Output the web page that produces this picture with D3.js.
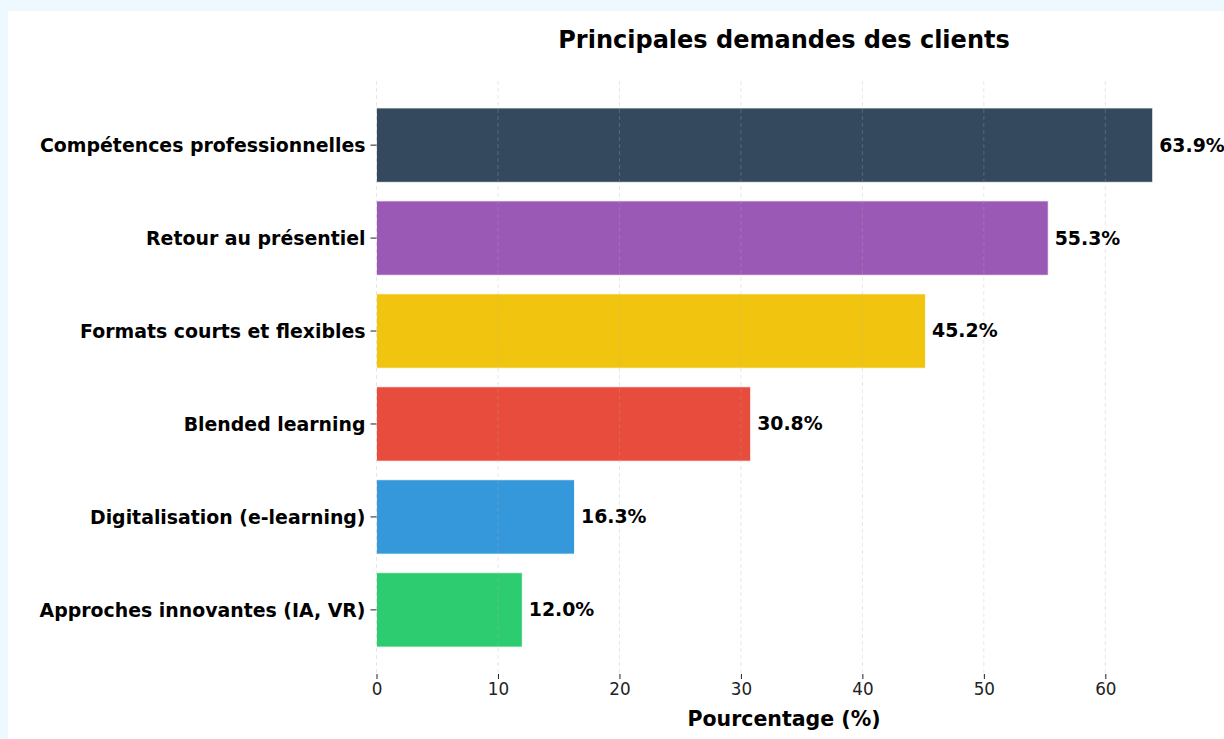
<!DOCTYPE html>
<html><head><meta charset="utf-8">
<script src="https://cdn.jsdelivr.net/npm/d3@7"></script>
<style>
html,body{margin:0;padding:0;background:#eef8ff;overflow:hidden;}
#wrap{position:absolute;left:8px;top:11px;width:1240px;height:740px;background:#fff;}
svg{display:block;font-family:"DejaVu Sans",sans-serif;}
</style></head>
<body><div id="wrap"><svg id="chart" width="1240" height="728"></svg></div>
<script>
const categories = ["Compétences professionnelles","Retour au présentiel","Formats courts et flexibles","Blended learning","Digitalisation (e-learning)","Approches innovantes (IA, VR)"];
const values = [63.9, 55.3, 45.2, 30.8, 16.3, 12.0];
const colors = ["#34495e","#9b59b6","#f1c40f","#e74c3c","#3498db","#2ecc71"];
const xTicks = [0,10,20,30,40,50,60];
const title = "Principales demandes des clients";
const xLabel = "Pourcentage (%)";

const ox = 8, oy = 11;
const pLeft = 376.5 - ox, pRight = 1191.5 - ox, pTop = 81 - oy, pBottom = 674 - oy;
const svg = d3.select("#chart");

const x = d3.scaleLinear().domain([0, d3.max(values) * 1.05]).range([pLeft, pRight]);
const n = categories.length;
const y = d3.scaleLinear().domain([-0.69, n - 1 + 0.69]).range([pTop, pBottom]);
const barH = (y(0.4) - y(-0.4));

const g = svg.append("g");
g.selectAll("rect.bar").data(values).enter().append("rect")
  .attr("x", x(0))
  .attr("y", (d,i) => y(i - 0.4))
  .attr("width", d => x(d) - x(0))
  .attr("height", barH)
  .attr("fill", (d,i) => colors[i])
  .attr("stroke", "#ffffff").attr("stroke-opacity", 0.8).attr("stroke-width", 1);

g.selectAll("line.grid").data(xTicks).enter().append("line")
  .attr("x1", d => x(d)).attr("x2", d => x(d))
  .attr("y1", pTop).attr("y2", pBottom)
  .attr("stroke", "#b0b0b0").attr("stroke-opacity", 0.3)
  .attr("stroke-width", 1).attr("stroke-dasharray", "4,3");

const xAxis = d3.axisBottom(x).tickValues(xTicks).tickSize(5).tickPadding(4).tickFormat(d3.format("d"));
const xa = svg.append("g").attr("transform", `translate(0,${pBottom})`).call(xAxis);
xa.select(".domain").remove();
xa.selectAll(".tick line").attr("stroke", "#222").attr("stroke-width", 1);
xa.selectAll(".tick text").attr("font-size", 16.8).attr("fill", "#222").attr("font-family", "DejaVu Sans");

const ya = svg.append("g").attr("transform", `translate(${pLeft},0)`);
ya.selectAll("g").data(categories).enter().append("g").each(function(d,i){
  const gg = d3.select(this);
  gg.append("line").attr("x1", -6).attr("x2", 0).attr("y1", y(i)).attr("y2", y(i)).attr("stroke", "#222");
  gg.append("text").attr("x", -11).attr("y", y(i)).attr("dy", "0.38em")
    .attr("text-anchor", "end").attr("font-size", 18.9).attr("font-weight", "bold").attr("fill", "#000").text(d);
});

g.selectAll("text.val").data(values).enter().append("text")
  .attr("x", d => x(d) + 6.5)
  .attr("y", (d,i) => y(i)).attr("dy", "0.34em")
  .attr("font-size", 18.9).attr("font-weight", "bold").attr("fill", "#000")
  .text(d => d.toFixed(1) + "%");

svg.append("text").attr("x", (pLeft + pRight) / 2).attr("y", 40 - oy).attr("dy", "0.33em")
  .attr("text-anchor", "middle").attr("font-size", 24).attr("font-weight", "bold").attr("fill", "#000").text(title);

svg.append("text").attr("x", (pLeft + pRight) / 2).attr("y", 719 - oy).attr("dy", "0.36em")
  .attr("text-anchor", "middle").attr("font-size", 20.5).attr("font-weight", "bold").attr("fill", "#000").text(xLabel);
</script></body></html>
